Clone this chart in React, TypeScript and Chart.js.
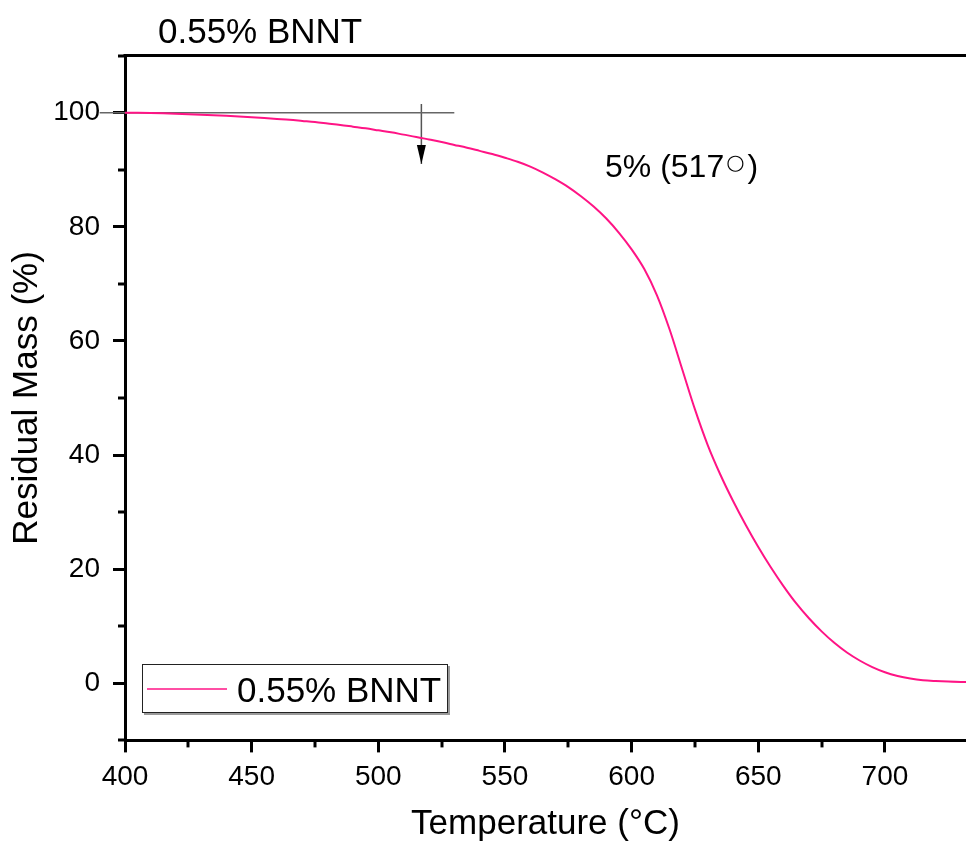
import { useEffect, useRef } from "react";
import { Chart, registerables } from "chart.js";

Chart.register(...registerables);

const FONT = '"Liberation Sans", Arial, Helvetica, sans-serif';
const CURVE_COLOR = "#ff1485";

// TGA curve: temperature (°C) vs residual mass (%)
const temperature = [
  400, 405, 410, 415, 420, 425, 430, 435, 440, 445, 450, 455, 460, 465, 470,
  475, 480, 485, 490, 495, 500, 505, 510, 515, 520, 525, 530, 535, 540, 545,
  550, 555, 560, 565, 570, 575, 580, 585, 590, 595, 600, 605, 610, 615, 620,
  625, 630, 635, 640, 645, 650, 655, 660, 665, 670, 675, 680, 685, 690, 695,
  700, 705, 710, 715, 720, 725, 730, 732,
];
const residualMass = [
  100.0, 99.98, 99.94, 99.89, 99.82, 99.74, 99.65, 99.55, 99.44, 99.32, 99.2,
  99.05, 98.9, 98.75, 98.55, 98.35, 98.1, 97.85, 97.55, 97.25, 96.9, 96.55,
  96.15, 95.75, 95.3, 94.85, 94.35, 93.85, 93.3, 92.75, 92.1, 91.4, 90.55,
  89.5, 88.3, 86.95, 85.35, 83.55, 81.45, 78.95, 76.05, 72.6, 68.0, 62.0, 55.0,
  48.0, 41.8, 36.6, 32.0, 27.8, 23.9, 20.3, 17.0, 14.0, 11.4, 9.1, 7.1, 5.4,
  4.0, 2.85, 1.95, 1.3, 0.85, 0.55, 0.4, 0.3, 0.25, 0.25,
];

// Onset marker: 5 % mass loss at 517 °C
const onsetTemp = 517;
const onsetLoss = 5;
const baselineX = [390, 530];
const baselineY = [100, 100];
const arrowY = [101.5, 91.0];

const sampleName = "0.55% BNNT";
const xTitle = "Temperature (°C)";
const yTitle = "Residual Mass (%)";

const xRange = [400, 732];
const yRange = [-10, 110];
const xMajor = 50;
const xMinor = 25;
const yMajor = 20;
const yMinor = 10;

const decorations = {
  id: "decorations",
  afterDraw(chart: any) {
    const { ctx, chartArea, scales } = chart;
    const xs = scales.x;
    const ys = scales.y;
    ctx.save();

    // top frame line
    ctx.strokeStyle = "#000";
    ctx.lineWidth = 3;
    ctx.beginPath();
    ctx.moveTo(chartArea.left - 1.5, chartArea.top);
    ctx.lineTo(chart.width, chartArea.top);
    ctx.stroke();

    // minor ticks
    xs.ticks.forEach((t: any) => {
      if (t.value % xMajor !== 0) {
        const px = Math.round(xs.getPixelForValue(t.value));
        ctx.beginPath();
        ctx.moveTo(px, chartArea.bottom);
        ctx.lineTo(px, chartArea.bottom + 7);
        ctx.stroke();
      }
    });
    ys.ticks.forEach((t: any) => {
      const major = t.value % yMajor === 0 && t.value >= 0 && t.value <= 100;
      if (!major) {
        const py = Math.round(ys.getPixelForValue(t.value));
        ctx.beginPath();
        ctx.moveTo(chartArea.left, py);
        ctx.lineTo(chartArea.left - 7, py);
        ctx.stroke();
      }
    });

    // arrowhead at the end of the onset marker
    const ax = xs.getPixelForValue(onsetTemp);
    const ay = ys.getPixelForValue(arrowY[1]);
    ctx.fillStyle = "#000";
    ctx.beginPath();
    ctx.moveTo(ax, ay);
    ctx.lineTo(ax - 4.5, ay - 19);
    ctx.lineTo(ax + 4.5, ay - 19);
    ctx.closePath();
    ctx.fill();

    // onset label, with a thin ring as the degree sign
    ctx.fillStyle = "#000";
    ctx.textAlign = "left";
    ctx.textBaseline = "alphabetic";
    ctx.font = `32px ${FONT}`;
    const head = `${onsetLoss}% (${onsetTemp}`;
    let tx = 605;
    ctx.fillText(head, tx, 177);
    tx += ctx.measureText(head).width + 2;
    ctx.font = `21px "DejaVu Sans"`;
    ctx.fillText("○", tx, 169);
    tx += ctx.measureText("○").width + 3;
    ctx.font = `32px ${FONT}`;
    ctx.fillText(")", tx, 177);

    // sample title above the plot
    ctx.font = `35px ${FONT}`;
    ctx.fillText(sampleName, 158, 43);

    // legend box
    const lx = 142, ly = 664, lw = 306, lh = 49;
    ctx.fillStyle = "#9a9a9a";
    ctx.fillRect(lx + 2, ly + 2, lw, lh);
    ctx.fillStyle = "#fff";
    ctx.fillRect(lx, ly, lw, lh);
    ctx.strokeStyle = "#222";
    ctx.lineWidth = 1;
    ctx.strokeRect(lx + 0.5, ly + 0.5, lw - 1, lh - 1);
    ctx.strokeStyle = CURVE_COLOR;
    ctx.globalAlpha = 0.75;
    ctx.lineWidth = 2;
    ctx.beginPath();
    ctx.moveTo(147, 689);
    ctx.lineTo(227, 689);
    ctx.stroke();
    ctx.globalAlpha = 1;
    ctx.fillStyle = "#000";
    ctx.font = `35px ${FONT}`;
    ctx.fillText(sampleName, 237, 702);

    ctx.restore();
  },
};

export default function App() {
  const canvasRef = useRef<HTMLCanvasElement | null>(null);

  useEffect(() => {
    const canvas = canvasRef.current;
    if (!canvas) return;

    const tickColor = (major: (v: number) => boolean) => (c: any) =>
      c.tick && major(c.tick.value) ? "#000" : "rgba(0,0,0,0)";

    const chart = new Chart(canvas, {
      type: "line",
      data: {
        datasets: [
          {
            label: sampleName,
            data: temperature.map((t, i) => ({ x: t, y: residualMass[i] })),
            borderColor: CURVE_COLOR,
            borderWidth: 2,
            pointRadius: 0,
            cubicInterpolationMode: "monotone",
            fill: false,
          },
          {
            label: "baseline",
            data: baselineX.map((x, i) => ({ x, y: baselineY[i] })),
            borderColor: "#666",
            borderWidth: 1.5,
            pointRadius: 0,
            clip: false,
          },
          {
            label: "onset",
            data: arrowY.map((y) => ({ x: onsetTemp, y })),
            borderColor: "#555",
            borderWidth: 1.5,
            pointRadius: 0,
            clip: false,
          },
        ],
      },
      options: {
        animation: false,
        responsive: false,
        devicePixelRatio: 1,
        layout: { padding: { top: 55.6, right: 0, left: 0, bottom: 0 } },
        plugins: {
          legend: { display: false },
          tooltip: { enabled: false },
          title: { display: false },
        },
        scales: {
          x: {
            type: "linear",
            position: "bottom",
            min: xRange[0],
            max: xRange[1],
            afterBuildTicks: (s: any) => {
              s.ticks = s.ticks.filter((t: any) => t.value % xMinor === 0);
            },
            afterFit: (s: any) => {
              s.height = 105.6;
            },
            ticks: {
              stepSize: xMinor,
              autoSkip: false,
              maxRotation: 0,
              padding: 8,
              color: "#000",
              font: { family: FONT, size: 28 },
              callback: (v: any) => (Number(v) % xMajor === 0 ? String(v) : ""),
            },
            grid: {
              drawOnChartArea: false,
              drawTicks: true,
              tickLength: 12,
              tickWidth: 3,
              tickColor: tickColor((v) => v % xMajor === 0),
            },
            border: { display: true, color: "#000", width: 3 },
            title: {
              display: true,
              text: xTitle,
              color: "#000",
              font: { family: FONT, size: 35 },
              padding: { top: 0, bottom: 1 },
            },
          },
          y: {
            type: "linear",
            position: "left",
            min: yRange[0],
            max: yRange[1],
            afterBuildTicks: (s: any) => {
              s.ticks = s.ticks.filter((t: any) => t.value % yMinor === 0);
            },
            afterFit: (s: any) => {
              s.width = 125;
            },
            ticks: {
              stepSize: yMinor,
              autoSkip: false,
              padding: 13,
              color: "#000",
              font: { family: FONT, size: 28 },
              callback: (v: any) => {
                const n = Number(v);
                return n % yMajor === 0 && n >= 0 && n <= 100 ? String(n) : "";
              },
            },
            grid: {
              drawOnChartArea: false,
              drawTicks: true,
              tickLength: 12,
              tickWidth: 3,
              tickColor: tickColor((v) => v % yMajor === 0 && v >= 0 && v <= 100),
            },
            border: { display: true, color: "#000", width: 3 },
            title: {
              display: true,
              text: yTitle,
              color: "#000",
              font: { family: FONT, size: 35 },
              padding: { top: 6, bottom: 0 },
            },
          },
        },
      },
      plugins: [decorations],
    } as any);

    return () => chart.destroy();
  }, []);

  return (
    <div style={{ position: "absolute", left: 0, top: 0, width: 966, height: 846, background: "#fff" }}>
      <canvas ref={canvasRef} width={966} height={846} />
    </div>
  );
}
